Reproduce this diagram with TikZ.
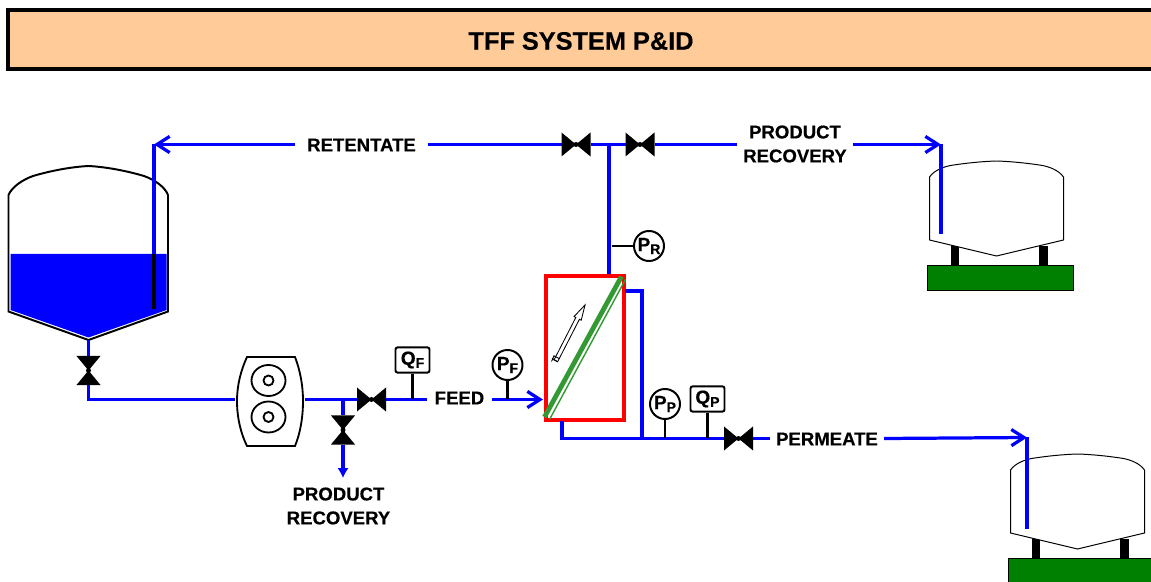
\documentclass[tikz,border=0pt]{standalone}
\usepackage{fontspec}
\setmainfont{Liberation Sans}[BoldFeatures={FakeBold=0.4}]
\usetikzlibrary{arrows.meta,calc}
\newcommand{\tagtext}[2]{#1\raisebox{-0.3ex}{\fontsize{10}{10}\selectfont #2}}
\definecolor{peach}{HTML}{FFCC99}
\definecolor{basegreen}{HTML}{008000}
\definecolor{filmgreen}{HTML}{339933}
\begin{document}
\begin{tikzpicture}[
    x=0.025cm, y=-0.025cm,
    pipe/.style={draw=blue, line width=2.3pt},
    feedarrow/.style={pipe, -{Straight Barb[length=9pt, width=11.5pt]}},
    outarrow/.style={pipe, -{Latex[length=7pt, width=8pt]}},
    stem/.style={line width=1.6pt},
    pipelabel/.style={font=\bfseries\fontsize{13.2}{17}\selectfont, align=center, inner ysep=0pt, inner xsep=0.15cm},
    gauge/.style={circle, draw, line width=1.4pt, fill=white, minimum size=0.75cm, inner sep=0pt, font=\bfseries\fontsize{13.5}{14}\selectfont},
    flowbox/.style={rectangle, rounded corners=1.5pt, draw, line width=1.4pt, fill=white, minimum width=0.85cm, minimum height=0.63cm, inner sep=0pt, font=\bfseries\fontsize{13.5}{14}\selectfont},
    valveh/.style={minimum width=0.725cm, minimum height=0.6cm, inner sep=0pt, outer sep=0pt,
        path picture={\fill (path picture bounding box.north west) -- (path picture bounding box.south east) -- (path picture bounding box.north east) -- (path picture bounding box.south west) -- cycle;
            \fill (path picture bounding box.center) circle (2.5);}},
    valvev/.style={minimum width=0.6cm, minimum height=0.725cm, inner sep=0pt, outer sep=0pt,
        path picture={\fill (path picture bounding box.north west) -- (path picture bounding box.north east) -- (path picture bounding box.south west) -- (path picture bounding box.south east) -- cycle;
            \fill (path picture bounding box.center) circle (2.5);}},
    pics/smalltank/.style={code={
        \fill (-45.5,85) rectangle (-37.5,104);
        \fill (42.5,85) rectangle (51.5,104);
        \draw[fill=basegreen, line width=0.7pt] (-69.5,104) rectangle (77,129);
        \draw[fill=white, line width=0.7pt] (-67,16) .. controls (-62,9) and (-53,6) .. (-46,4.5)
            .. controls (-30,2) and (-15,0.5) .. (0,0) .. controls (15,0.5) and (30,2) .. (46,4.5)
            .. controls (53,6) and (62,9) .. (67,16) -- (67,79) -- (0,95) -- (-67,79) -- cycle;
    }}
]
    \useasboundingbox (0,0) rectangle (1151,582);

    \node[draw, line width=2.5pt, fill=peach, outer sep=0pt, minimum width=29cm, minimum height=1.475cm, anchor=west] (banner) at (8,39.3) {};
    \node[font=\bfseries\fontsize{18}{20}\selectfont] (title) at (581,41) {TFF SYSTEM P\&ID};

    \draw[fill=white, line width=1.4pt] (8.5,195) .. controls (12,187) and (22,180) .. (33,176)
        .. controls (50,171) and (70,167) .. (88.5,166) .. controls (107,167) and (127,171) .. (144,176)
        .. controls (155,180) and (165,187) .. (168,195) -- (168,311.5) -- (88.5,340) -- (8.5,311.5) -- cycle;
    \fill[blue] (10.5,254) -- (166.5,254) -- (166.5,310) -- (88.5,337.5) -- (10.5,310) -- cycle;
    \pic at (996.5,161) {smalltank};
    \pic at (1077.5,454) {smalltank};

    \coordinate (tank out) at (88.5,340);
    \coordinate (ret end) at (154,144.5);
    \coordinate (dip top) at (154,254);
    \coordinate (dip end) at (154,309);
    \coordinate (rec end) at (941,144.5);
    \coordinate (rec tube) at (941,234);
    \coordinate (perm end) at (1027,437.5);
    \coordinate (perm tube) at (1027,529);
    \coordinate (drain tee) at (343,399.5);
    \coordinate (drain end) at (343,478);
    \coordinate (feed in) at (543,399.5);
    \coordinate (ret tee) at (609,144.5);
    \coordinate (ret tap) at (612,246);
    \coordinate (perm side) at (625,291);
    \coordinate (perm low) at (562,421);
    \coordinate (perm tee) at (642,438.5);

    \node[minimum width=1.725cm, minimum height=2.225cm, inner sep=0pt, outer sep=0pt] (pump) at (270,399.5) {};
    \draw[line width=1.3pt] (247,357) -- (295,357) .. controls (300,370) and (303,385) .. (303,401)
        .. controls (303,418) and (300,434) .. (295,446) -- (247,446)
        .. controls (241,434) and (237,418) .. (237,401) .. controls (237,385) and (241,370) .. (247,357) -- cycle;
    \draw[line width=1.3pt] (268.5,380.5) ellipse (17 and 15.5);
    \draw[line width=1.3pt] (268.5,380.5) circle (5);
    \draw[line width=1.3pt] (268.5,417) ellipse (17 and 15.5);
    \draw[line width=1.3pt] (268.5,417) circle (5);

    \node[valvev] (v1) at (88.5,370.5) {};
    \node[valveh] (v2) at (371.5,399.5) {};
    \node[valvev] (v3) at (343,430) {};
    \node[valveh] (v4) at (576,144.5) {};
    \node[valveh] (v5) at (640,144.5) {};
    \node[valveh] (v6) at (738.5,438.5) {};

    \node[pipelabel, inner xsep=0.3cm] (retentate) at (361.5,145) {RETENTATE};
    \node[pipelabel] (rec top) at (795,144) {PRODUCT\\RECOVERY};
    \node[pipelabel] (rec low) at (338.5,506) {PRODUCT\\RECOVERY};
    \node[pipelabel, inner xsep=0.18cm] (feed) at (459.5,398) {FEED};
    \node[pipelabel] (permeate) at (827,439) {PERMEATE};

    \node[draw=red, line width=2.5pt, minimum width=1.94cm, minimum height=3.59cm, inner sep=0pt] (membrane) at (585,348) {};
    \draw[filmgreen, line width=3.4pt] (544.5,417) -- (621.5,276.5);
    \draw[filmgreen, line width=1pt] (549.5,419.5) -- (625.5,279.5);

    \draw[pipe] (tank out) -- (v1);
    \draw[pipe] (v1) |- (pump);
    \draw[pipe] (pump) -- (v2);
    \draw[pipe] (drain tee) -- (v3);
    \draw[outarrow] (v3) -- (drain end);
    \draw[pipe] (v2) -- (feed.west |- v2);
    \draw[feedarrow] (feed.east |- feed in) -- (feed in);
    \draw[pipe] (ret tee) -- (ret tee |- membrane.north);
    \draw[pipe] (v4) -- (v5);
    \draw[pipe] (v4) -- (retentate.east |- v4);
    \draw[feedarrow] (retentate.west |- ret end) -- (ret end);
    \draw[pipe] (ret end) -- (dip top);
    \draw[line width=2.3pt] (dip top) -- (dip end);
    \draw[pipe] (v5) -- (rec top.west |- v5);
    \draw[feedarrow] (rec top.east |- rec end) -- (rec end);
    \draw[pipe] (rec end) -- (rec tube);
    \draw[pipe] (perm side) -| (perm tee);
    \draw[pipe] (perm low) |- (v6);
    \draw[pipe] (v6) -- (permeate.west |- v6);
    \draw[feedarrow] (permeate.east |- v6) -- (perm end);
    \draw[pipe] (perm end) -- (perm tube);

    \draw[fill=white, line width=0.6pt] (585,305) -- (581.2,320.2) -- (579.4,319.3) -- (557.6,361.8) -- (554.0,360) -- (575.8,317.5) -- (574,316.6) -- cycle;
    \draw[line width=0.6pt] (553.5,355.5) -- (559,358.5) (552,358.5) -- (557.5,361.5) (554,356) -- (551.5,361.5);

    \node[gauge] (pr) at (649,246) {\tagtext{P}{R}};
    \node[gauge] (pf) at (507.5,365) {\tagtext{P}{F}};
    \node[gauge] (pp) at (665,404) {\tagtext{P}{P}};
    \node[flowbox] (qf) at (412.5,360) {\tagtext{Q}{F}};
    \node[flowbox] (qp) at (707.5,399) {\tagtext{Q}{P}};

    \draw[stem] (pr) -- (ret tap);
    \draw[stem] (pf) -- (pf |- feed in);
    \draw[stem] (pp) -- (pp |- perm tee);
    \draw[stem] (qf) -- (qf |- v2);
    \draw[stem] (qp) -- (qp |- perm tee);
\end{tikzpicture}
\end{document}
